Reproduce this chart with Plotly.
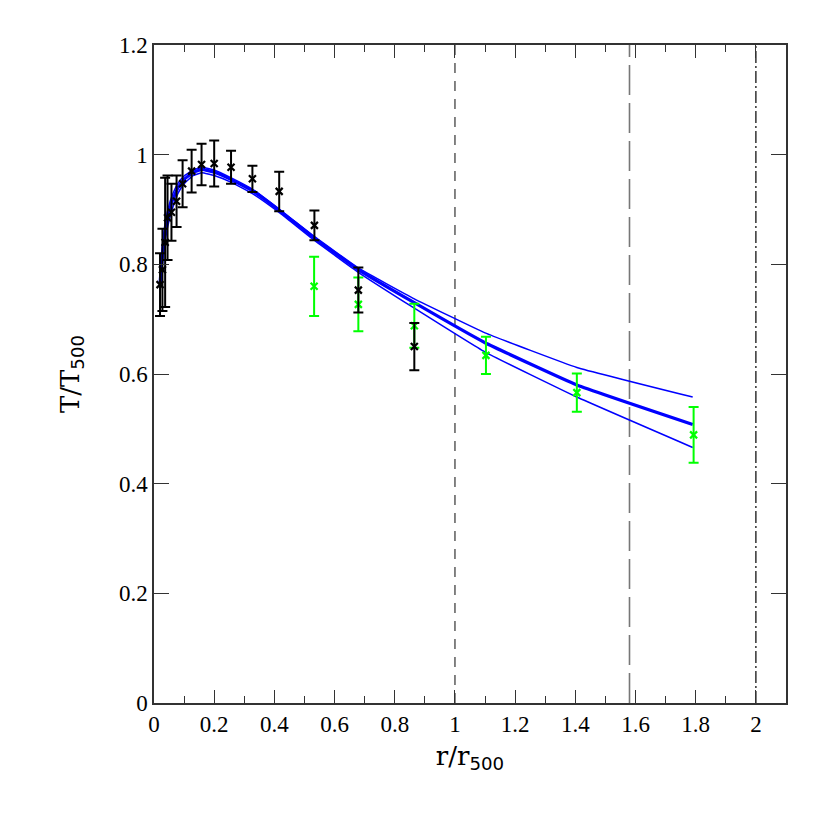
import plotly.graph_objects as go

# Black data points (r/r500, T/T500, error)
bx = [0.020, 0.028, 0.037, 0.045, 0.058, 0.075, 0.095, 0.125, 0.158, 0.200, 0.256, 0.327, 0.416, 0.533, 0.679, 0.865]
by = [0.763, 0.790, 0.840, 0.885, 0.895, 0.915, 0.947, 0.970, 0.982, 0.984, 0.977, 0.956, 0.933, 0.871, 0.753, 0.650]
be = [0.057, 0.075, 0.118, 0.077, 0.052, 0.047, 0.043, 0.039, 0.038, 0.042, 0.030, 0.024, 0.036, 0.027, 0.041, 0.043]

# Green data points
gx = [0.532, 0.679, 0.865, 1.103, 1.405, 1.793]
gy = [0.760, 0.727, 0.688, 0.634, 0.566, 0.489]
ge = [0.054, 0.049, 0.040, 0.034, 0.035, 0.051]

# Model curves
cx = [0.020, 0.025, 0.030, 0.040, 0.050, 0.060, 0.080, 0.100, 0.130, 0.160, 0.200, 0.255, 0.330, 0.420, 0.530, 0.680, 0.865, 1.100, 1.405, 1.790]
c_main = [0.765, 0.800, 0.830, 0.870, 0.895, 0.915, 0.940, 0.955, 0.968, 0.973, 0.968, 0.955, 0.933, 0.897, 0.849, 0.790, 0.730, 0.657, 0.580, 0.508]
c_up = [0.780, 0.815, 0.845, 0.885, 0.908, 0.925, 0.948, 0.961, 0.972, 0.977, 0.972, 0.958, 0.936, 0.899, 0.852, 0.793, 0.737, 0.675, 0.612, 0.558]
c_lo = [0.750, 0.783, 0.812, 0.853, 0.880, 0.900, 0.930, 0.947, 0.962, 0.967, 0.962, 0.950, 0.928, 0.893, 0.845, 0.785, 0.720, 0.640, 0.558, 0.466]

# Reference radii
v_short = 1.0
v_long = 1.58
v_dashdot = 2.0

BLUE = "#0000ff"
GREEN = "#00ff00"

fig = go.Figure()

for yy, w in [(c_up, 1.5), (c_lo, 1.5), (c_main, 3.2)]:
    fig.add_trace(go.Scatter(x=cx, y=yy, mode="lines",
                             line=dict(color=BLUE, width=w, shape="spline", smoothing=0.3),
                             showlegend=False, hoverinfo="skip"))

fig.add_trace(go.Scatter(x=gx, y=gy, mode="markers",
                         marker=dict(symbol="x-thin", size=7, line=dict(color=GREEN, width=2.2), color=GREEN),
                         error_y=dict(type="data", array=ge, color=GREEN, thickness=2, width=5),
                         showlegend=False))
fig.add_trace(go.Scatter(x=bx, y=by, mode="markers",
                         marker=dict(symbol="x-thin", size=7, line=dict(color="black", width=2.2), color="black"),
                         error_y=dict(type="data", array=be, color="black", thickness=2, width=5),
                         showlegend=False))

fig.add_vline(x=v_short, line=dict(color="#666666", width=1.6, dash="10px,8px"), layer="below")
fig.add_vline(x=v_long, line=dict(color="#777777", width=1.6, dash="30px,8px"), layer="below")
fig.add_vline(x=v_dashdot, line=dict(color="black", width=1.2, dash="12px,3px,2px,3px"), layer="below")

tick_font = dict(family="Liberation Serif, DejaVu Serif, serif", size=23, color="black")
title_font = dict(family="DejaVu Serif, Liberation Serif, serif", size=26, color="black")
SUB = "<sub><span style='font-family:DejaVu Sans'>500</span></sub>"

fig.update_layout(
    width=830, height=830,
    margin=dict(l=146, r=52, t=37, b=135),
    paper_bgcolor="white", plot_bgcolor="white",
    font=dict(family="Liberation Serif, serif", size=23, color="black"),
    xaxis=dict(range=[0, 2.1], dtick=0.2, tick0=0, ticks="inside", ticklen=13, tickwidth=1.2,
               tickcolor="#333333", showline=True, linecolor="#333333", linewidth=1.5, mirror="allticks",
               showgrid=False, zeroline=False, tickfont=tick_font,
               minor=dict(dtick=0.1, ticks="inside", ticklen=7, tickcolor="#333333", tickwidth=1.2, showgrid=False),
               title=dict(text="r/r" + SUB, font=title_font, standoff=10)),
    yaxis=dict(range=[0, 1.2], dtick=0.2, tick0=0, ticks="inside", ticklen=15, tickwidth=1.2,
               tickcolor="#333333", showline=True, linecolor="#333333", linewidth=1.5, mirror="allticks",
               showgrid=False, zeroline=False, tickfont=tick_font,
               title=dict(text="T/T" + SUB, font=title_font, standoff=32)),
)

fig.write_html("out.html")
